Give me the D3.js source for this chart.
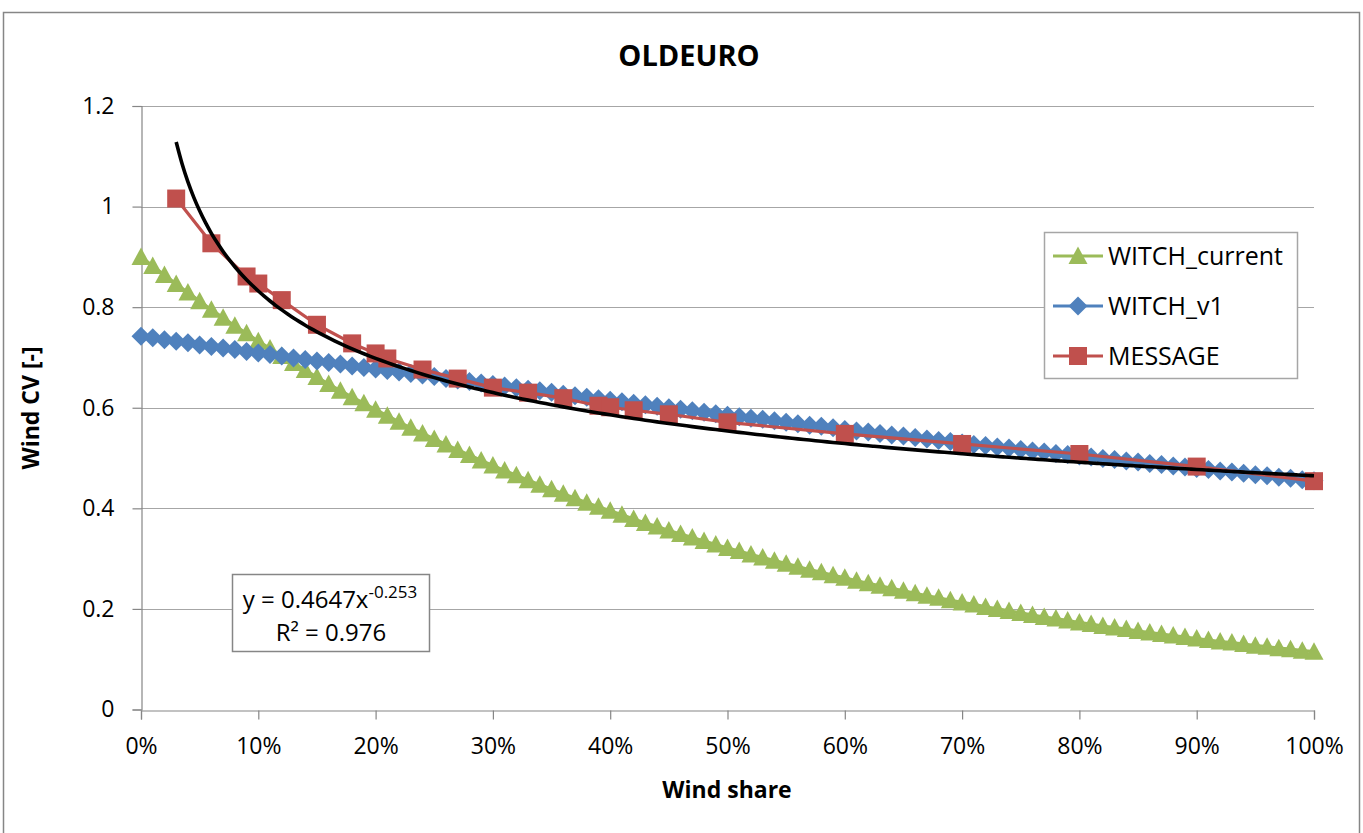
<!DOCTYPE html>
<html>
<head>
<meta charset="utf-8">
<script src="https://cdn.jsdelivr.net/npm/d3@7"></script>
<style>
  html, body { margin: 0; padding: 0; background: #fff; }
  svg { display: block; font-family: "Open Sans", "Noto Sans", sans-serif; }
</style>
</head>
<body>
<div id="viz"></div>
<script>
// x grid of the two WITCH series: 0% .. 100% in 1% steps
const witchShare = d3.range(0, 101).map(i => i / 100);

const witchCurrent = [
  0.900, 0.882, 0.864, 0.846, 0.829, 0.812, 0.795, 0.779, 0.763, 0.748,
  0.732, 0.718, 0.703, 0.689, 0.675, 0.661, 0.647, 0.634, 0.621, 0.609,
  0.596, 0.584, 0.572, 0.560, 0.549, 0.538, 0.527, 0.516, 0.506, 0.495,
  0.485, 0.475, 0.466, 0.456, 0.447, 0.438, 0.429, 0.420, 0.411, 0.403,
  0.395, 0.387, 0.379, 0.371, 0.364, 0.356, 0.349, 0.342, 0.335, 0.328,
  0.321, 0.315, 0.308, 0.302, 0.296, 0.290, 0.284, 0.278, 0.273, 0.267,
  0.262, 0.256, 0.251, 0.246, 0.241, 0.236, 0.231, 0.226, 0.222, 0.217,
  0.213, 0.209, 0.204, 0.200, 0.196, 0.192, 0.188, 0.184, 0.181, 0.177,
  0.173, 0.170, 0.166, 0.163, 0.160, 0.156, 0.153, 0.150, 0.147, 0.144,
  0.141, 0.138, 0.135, 0.133, 0.130, 0.127, 0.125, 0.122, 0.120, 0.117,
  0.115
];

const witchV1 = [
  0.742, 0.739, 0.735, 0.732, 0.729, 0.725, 0.722, 0.719, 0.716, 0.712,
  0.709, 0.706, 0.703, 0.699, 0.696, 0.693, 0.690, 0.687, 0.683, 0.680,
  0.677, 0.674, 0.671, 0.668, 0.665, 0.662, 0.658, 0.655, 0.652, 0.649,
  0.646, 0.643, 0.640, 0.637, 0.634, 0.631, 0.627, 0.624, 0.621, 0.618,
  0.615, 0.612, 0.609, 0.606, 0.603, 0.600, 0.597, 0.594, 0.591, 0.588,
  0.585, 0.582, 0.579, 0.577, 0.574, 0.571, 0.568, 0.565, 0.563, 0.560,
  0.557, 0.554, 0.552, 0.549, 0.546, 0.544, 0.541, 0.538, 0.535, 0.533,
  0.530, 0.527, 0.525, 0.522, 0.520, 0.517, 0.514, 0.512, 0.509, 0.507,
  0.504, 0.502, 0.499, 0.497, 0.494, 0.492, 0.489, 0.487, 0.484, 0.482,
  0.479, 0.477, 0.474, 0.472, 0.470, 0.467, 0.465, 0.462, 0.460, 0.457,
  0.455
];

const messageShare = [0.03, 0.06, 0.09, 0.10, 0.12, 0.15, 0.18, 0.20, 0.21, 0.24,
  0.27, 0.30, 0.33, 0.36, 0.39, 0.40, 0.42, 0.45, 0.50, 0.60, 0.70, 0.80, 0.90, 1.00];
const messageCV = [1.016, 0.927, 0.861, 0.847, 0.814, 0.765, 0.728, 0.708, 0.698, 0.676,
  0.658, 0.640, 0.630, 0.619, 0.604, 0.601, 0.595, 0.587, 0.571, 0.548, 0.528, 0.508, 0.483, 0.454];

// power trendline shown on the chart: y = 0.4647 x^-0.253
const fitA = 0.4647;
const fitB = -0.253;
const fitR2 = "0.976";

const yTicks = [0, 0.2, 0.4, 0.6, 0.8, 1, 1.2];
const xTicks = [0, 0.1, 0.2, 0.3, 0.4, 0.5, 0.6, 0.7, 0.8, 0.9, 1.0];

const seriesList = [
  { name: "WITCH_current", color: "#9BBB59", shape: "triangle", xs: witchShare, ys: witchCurrent },
  { name: "WITCH_v1", color: "#4F81BD", shape: "diamond", xs: witchShare, ys: witchV1 },
  { name: "MESSAGE", color: "#C0504D", shape: "square", xs: messageShare, ys: messageCV }
];

const W = 1363, H = 833;
const svg = d3.select("#viz").append("svg")
  .attr("width", W)
  .attr("height", H);

// chart frame
svg.append("rect")
  .attr("x", 3.5).attr("y", 12.5)
  .attr("width", 1356).attr("height", 850)
  .attr("fill", "#fff")
  .attr("stroke", "#868686")
  .attr("stroke-width", 1.5);

const x = d3.scaleLinear().domain([0, 1]).range([141, 1314]);
const y = d3.scaleLinear().domain([0, 1.2]).range([709.5, 106]);

// gridlines
svg.append("g")
  .selectAll("line")
  .data(yTicks.filter(d => d > 0))
  .enter().append("line")
  .attr("x1", x(0)).attr("x2", x(1))
  .attr("y1", d => Math.round(y(d)) + 0.5)
  .attr("y2", d => Math.round(y(d)) + 0.5)
  .attr("stroke", "#a6a6a6")
  .attr("stroke-width", 1.2);

// axes
const xAxis = svg.append("g")
  .attr("transform", `translate(0,${Math.round(y(0)) + 0.5})`)
  .call(d3.axisBottom(x).tickValues(xTicks).tickSize(9).tickPadding(18)
    .tickFormat(d3.format(".0%")));
const yAxis = svg.append("g")
  .attr("transform", `translate(${Math.round(x(0)) + 0.5},0)`)
  .call(d3.axisLeft(y).tickValues(yTicks).tickSize(9).tickPadding(18)
    .tickFormat(d => String(d)));

[xAxis, yAxis].forEach(ax => {
  ax.select(".domain").attr("stroke", "#868686").attr("stroke-width", 1.2);
  ax.selectAll(".tick line").attr("stroke", "#868686").attr("stroke-width", 1.2);
  ax.selectAll("text")
    .attr("fill", "#000")
    .style("font-size", "23px")
    .style("font-family", "'Open Sans', sans-serif");
});

// symbol shapes, Excel-like
function markerPath(shape) {
  if (shape === "triangle") return "M0,-9.5L9.5,8L-9.5,8Z";
  if (shape === "diamond") return "M0,-9.5L9.5,0L0,9.5L-9.5,0Z";
  return "M-9,-9L9,-9L9,9L-9,9Z";
}

const line = d3.line()
  .x(d => x(d[0]))
  .y(d => y(d[1]));

seriesList.forEach(s => {
  const pts = s.xs.map((v, i) => [v, s.ys[i]]);
  const g = svg.append("g").attr("class", "series");
  g.append("path")
    .datum(pts)
    .attr("d", line)
    .attr("fill", "none")
    .attr("stroke", s.color)
    .attr("stroke-width", 3.2)
    .attr("stroke-linejoin", "round");
  g.selectAll("path.mark")
    .data(pts)
    .enter().append("path")
    .attr("class", "mark")
    .attr("d", markerPath(s.shape))
    .attr("transform", d => `translate(${x(d[0])},${y(d[1])})`)
    .attr("fill", s.color);
});

// trendline
const fitX = d3.range(0.03, 1.0001, 0.005);
svg.append("path")
  .datum(fitX.map(v => [v, fitA * Math.pow(v, fitB)]))
  .attr("d", line.curve(d3.curveMonotoneX))
  .attr("fill", "none")
  .attr("stroke", "#000")
  .attr("stroke-width", 3.6);

// title and axis titles
svg.append("text")
  .attr("x", 689).attr("y", 66)
  .attr("text-anchor", "middle")
  .style("font-size", "29px")
  .style("font-weight", "bold")
  .text("OLDEURO");

svg.append("text")
  .attr("x", 727).attr("y", 798)
  .attr("text-anchor", "middle")
  .style("font-size", "23px")
  .style("font-weight", "bold")
  .text("Wind share");

svg.append("text")
  .attr("transform", "translate(39,408) rotate(-90)")
  .attr("text-anchor", "middle")
  .style("font-size", "23px")
  .style("font-weight", "bold")
  .text("Wind CV [-]");

// legend
const legend = svg.append("g");
legend.append("rect")
  .attr("x", 1044.5).attr("y", 232.5)
  .attr("width", 253).attr("height", 146)
  .attr("fill", "#fff")
  .attr("stroke", "#a6a6a6")
  .attr("stroke-width", 1.5);

seriesList.forEach((s, i) => {
  const cy = 256 + i * 50;
  legend.append("line")
    .attr("x1", 1053).attr("x2", 1103)
    .attr("y1", cy).attr("y2", cy)
    .attr("stroke", s.color)
    .attr("stroke-width", 3.2);
  legend.append("path")
    .attr("d", markerPath(s.shape))
    .attr("transform", `translate(1078,${cy})`)
    .attr("fill", s.color);
  legend.append("text")
    .attr("x", 1108).attr("y", cy)
    .attr("dy", "0.35em")
    .style("font-size", "25px")
    .text(s.name);
});

// trendline label
const eq = svg.append("g");
eq.append("rect")
  .attr("x", 232.5).attr("y", 574.5)
  .attr("width", 197).attr("height", 77)
  .attr("fill", "#fff")
  .attr("stroke", "#868686")
  .attr("stroke-width", 1.5);

const eqText = eq.append("text")
  .attr("x", 330).attr("y", 608)
  .attr("text-anchor", "middle")
  .style("font-size", "24px");
eqText.append("tspan").text(`y = ${fitA}x`);
eqText.append("tspan")
  .attr("dy", -10)
  .style("font-size", "17px")
  .text(String(fitB));

eq.append("text")
  .attr("x", 331).attr("y", 641)
  .attr("text-anchor", "middle")
  .style("font-size", "24px")
  .text(`R² = ${fitR2}`);
</script>
</body>
</html>
